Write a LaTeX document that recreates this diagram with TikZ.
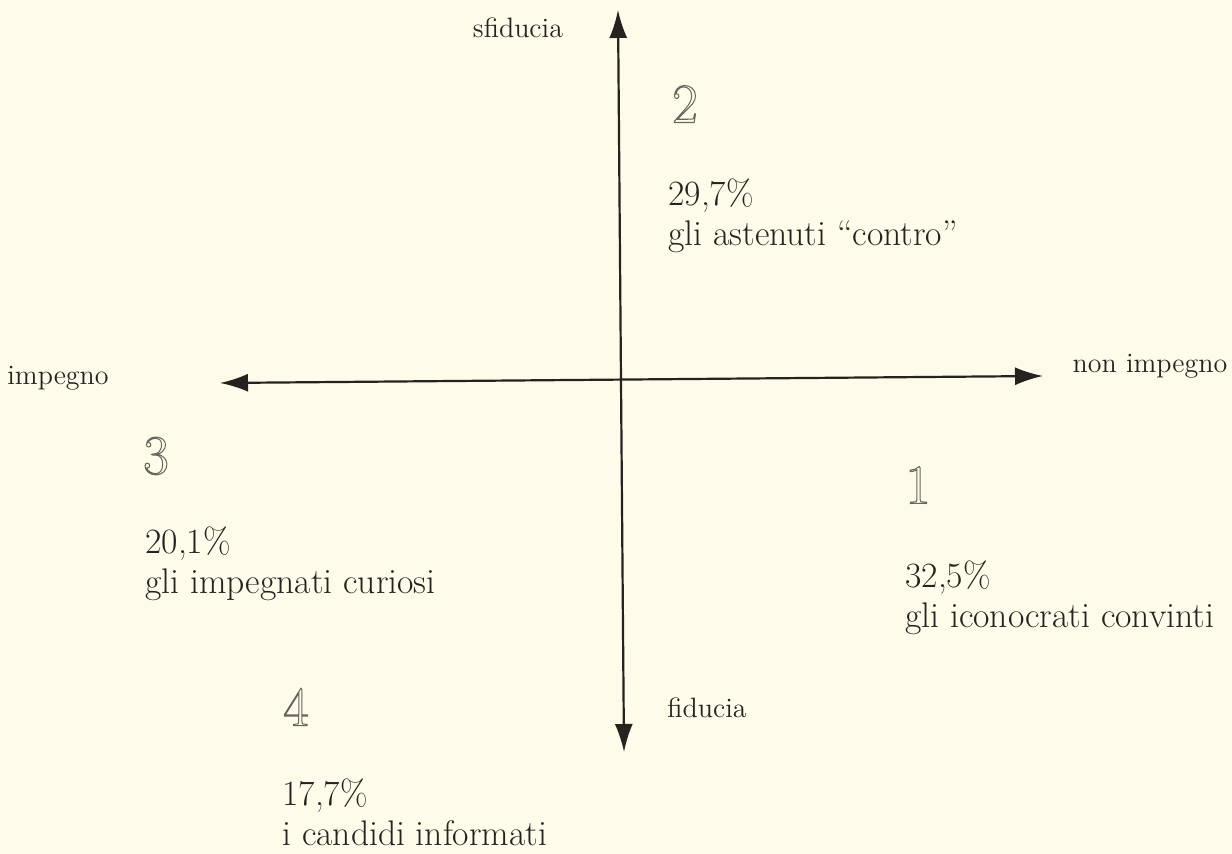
\documentclass[tikz,border=0pt]{standalone}
\usetikzlibrary{arrows.meta}
\definecolor{paper}{RGB}{253,251,233}
\definecolor{ink}{RGB}{38,34,30}
\definecolor{numgray}{RGB}{105,100,92}
\newcommand{\hollow}[1]{\special{pdf:literal direct 1 Tr 0.5 w}#1\special{pdf:literal direct 0 Tr}}
\begin{document}
\begin{tikzpicture}[x=0.5pt,y=-0.5pt,
	axis/.style={ink, line width=1.1pt, {Latex[length=14pt,width=9pt]}-{Latex[length=14pt,width=9pt]}},
	pole/.style={ink, font=\fontsize{14}{16}\selectfont},
	quadnum/.style={numgray, font=\fontsize{28}{30}\selectfont},
	quadtext/.style={ink, anchor=north west, align=left, inner sep=0pt, font=\fontsize{17.8}{20}\selectfont}]
	\fill[paper] (0,0) rectangle (1232,854);
	\useasboundingbox (0,0) rectangle (1232,854);
	% axes
	\coordinate (top) at (618,10);
	\coordinate (bottom) at (624,752);
	\coordinate (left) at (220,383);
	\coordinate (right) at (1043,376);
	\draw[axis] (bottom) -- (top);
	\draw[axis] (left) -- (right);
	% poles
	\node[pole] (sfid) at (518,28) {sfiducia};
	\node[pole] (fid) at (707,708) {fiducia};
	\node[pole] (imp) at (58,378) {impegno};
	\node[pole] (nonimp) at (1150,366) {non impegno};
	% quadrants
	\node[quadnum] (n2) at (685,104) {\hollow{2}};
	\node[quadtext] (q2) at (668,178) {29,7\%\\gli astenuti ``contro''};
	\node[quadnum] (n3) at (156,456) {\hollow{3}};
	\node[quadtext] (q3) at (145,526) {20,1\%\\gli impegnati curiosi};
	\node[quadnum] (n1) at (918,485) {\hollow{1}};
	\node[quadtext] (q1) at (905,560) {32,5\%\\gli iconocrati convinti};
	\node[quadnum] (n4) at (296,707) {\hollow{4}};
	\node[quadtext] (q4) at (282,778) {17,7\%\\i candidi informati};
\end{tikzpicture}
\end{document}
